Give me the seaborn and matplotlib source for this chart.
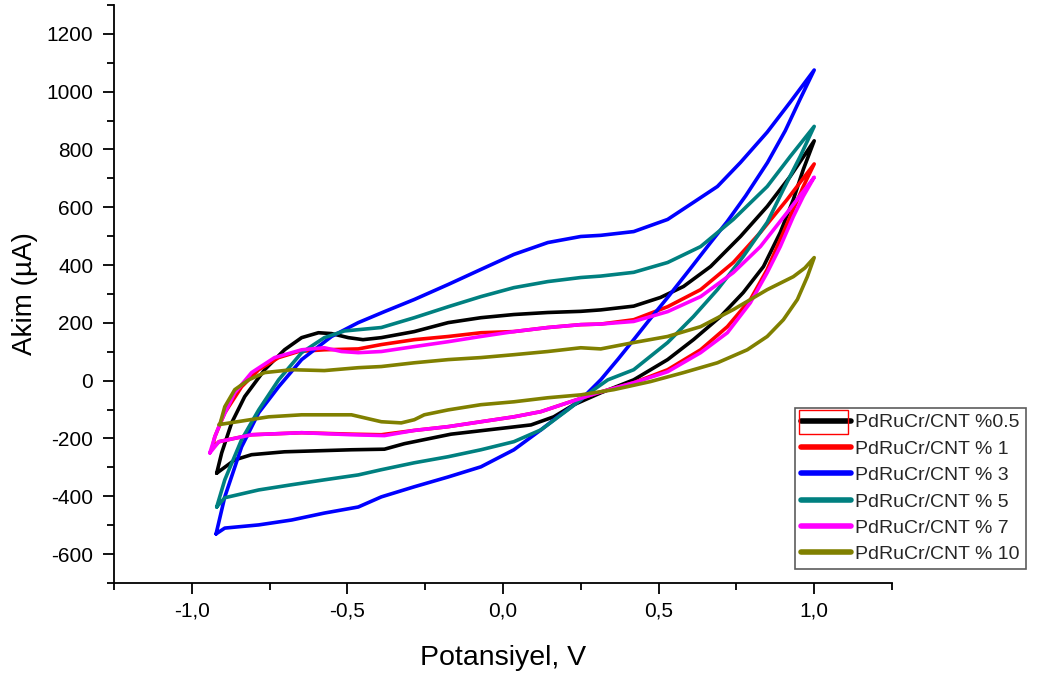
import numpy as np
import pandas as pd
import matplotlib
matplotlib.use("Agg")
import matplotlib.pyplot as plt
import seaborn as sns
from matplotlib.ticker import MultipleLocator, FuncFormatter
from matplotlib.patches import Rectangle

# ---- data ----
labels = ["PdRuCr/CNT %0.5", "PdRuCr/CNT % 1", "PdRuCr/CNT % 3",
          "PdRuCr/CNT % 5", "PdRuCr/CNT % 7", "PdRuCr/CNT % 10"]
colors = ["#000000", "#FF0000", "#0000FF", "#008080", "#FF00FF", "#808000"]

# %0.5 (black)
e_black = [-0.92, -0.904, -0.872, -0.83, -0.766, -0.702, -0.647, -0.593, -0.551, -0.497, -0.45, -0.391,
           -0.285, -0.176, -0.071, 0.035, 0.144, 0.25, 0.314, 0.42, 0.506, 0.58, 0.667, 0.763, 0.849, 0.923, 1.0,
           0.965, 0.933, 0.891, 0.837, 0.772, 0.699, 0.612, 0.529, 0.42, 0.314, 0.228, 0.163, 0.09, -0.006,
           -0.167, -0.317, -0.381, -0.487, -0.702, -0.808, -0.862, -0.92]
i_black = [-320, -250, -146, -55, 38, 107, 149, 166, 163, 149, 142, 149,
           170, 201, 218, 229, 236, 240, 245, 258, 288, 326, 395, 499, 603, 707, 830,
           731, 627, 513, 395, 305, 222, 142, 73, 3, -42, -83, -125, -153, -165,
           -185, -218, -237, -239, -246, -256, -274, -320]

# % 1 (red)
e_red = [-0.935, -0.926, -0.894, -0.84, -0.785, -0.721, -0.657, -0.574, -0.465, -0.391, -0.285, -0.176,
         -0.071, 0.035, 0.144, 0.25, 0.314, 0.42, 0.529, 0.635, 0.74, 0.827, 0.913, 1.0,
         0.965, 0.933, 0.891, 0.849, 0.795, 0.721, 0.635, 0.529, 0.42, 0.304, 0.208, 0.122, 0.035,
         -0.071, -0.176, -0.285, -0.391, -0.487, -0.647, -0.808, -0.913, -0.935]
i_red = [-235, -194, -111, -21, 38, 80, 101, 107, 110, 125, 142, 153,
         166, 170, 184, 194, 196, 211, 256, 315, 409, 513, 627, 750,
         672, 593, 489, 385, 281, 187, 107, 38, -7, -42, -76, -107, -125,
         -142, -159, -172, -187, -185, -180, -187, -211, -235]

# % 3 (blue)
e_blue = [-0.922, -0.894, -0.84, -0.785, -0.721, -0.647, -0.551, -0.465, -0.381, -0.285, -0.176, -0.071,
          0.035, 0.144, 0.25, 0.314, 0.42, 0.529, 0.612, 0.689, 0.763, 0.849, 0.923, 1.0,
          0.955, 0.907, 0.85, 0.78, 0.72, 0.667, 0.6, 0.529, 0.47, 0.42, 0.37, 0.314, 0.25, 0.176, 0.122, 0.035,
          -0.071, -0.176, -0.285, -0.391, -0.465, -0.574, -0.679, -0.785, -0.894, -0.922]
i_blue = [-530, -402, -229, -111, -21, 73, 153, 201, 239, 281, 333, 385,
          437, 478, 499, 503, 516, 558, 617, 672, 755, 860, 964, 1075,
          975, 865, 755, 640, 550, 478, 385, 288, 210, 142, 75, 3, -66, -125, -170, -239,
          -298, -333, -367, -402, -437, -458, -482, -499, -510, -530]

# % 5 (teal)
e_teal = [-0.92, -0.894, -0.84, -0.785, -0.721, -0.647, -0.574, -0.51, -0.391, -0.285, -0.176, -0.071,
          0.035, 0.144, 0.25, 0.314, 0.42, 0.529, 0.635, 0.74, 0.849, 0.923, 1.0,
          0.955, 0.901, 0.849, 0.772, 0.689, 0.612, 0.529, 0.42, 0.337, 0.292, 0.208, 0.122, 0.035,
          -0.071, -0.176, -0.285, -0.391, -0.465, -0.574, -0.679, -0.785, -0.894, -0.92]
i_teal = [-437, -343, -204, -101, 3, 97, 149, 172, 184, 218, 256, 291,
          322, 343, 357, 362, 375, 409, 464, 558, 672, 776, 880,
          776, 662, 548, 430, 315, 222, 132, 38, 3, -31, -101, -170, -211,
          -239, -263, -284, -308, -326, -343, -360, -378, -405, -437]

# % 7 (magenta)
e_mag = [-0.942, -0.926, -0.904, -0.862, -0.808, -0.734, -0.647, -0.574, -0.519, -0.465, -0.391, -0.285,
         -0.176, -0.071, 0.035, 0.144, 0.25, 0.314, 0.42, 0.529, 0.635, 0.74, 0.827, 0.913, 1.0,
         0.965, 0.933, 0.891, 0.849, 0.795, 0.721, 0.635, 0.529, 0.42, 0.304, 0.208, 0.122, 0.035,
         -0.071, -0.176, -0.285, -0.381, -0.487, -0.647, -0.808, -0.913, -0.942]
i_mag = [-250, -194, -135, -42, 28, 80, 107, 114, 101, 97, 101, 118,
         135, 153, 170, 184, 194, 196, 205, 239, 291, 374, 464, 582, 704,
         638, 568, 464, 374, 270, 166, 97, 31, -7, -42, -76, -107, -125,
         -142, -159, -172, -190, -187, -180, -187, -211, -250]

# % 10 (olive)
e_olive = [-0.91, -0.894, -0.862, -0.817, -0.766, -0.679, -0.574, -0.465, -0.391, -0.285, -0.176, -0.071,
           0.035, 0.144, 0.25, 0.314, 0.42, 0.529, 0.635, 0.74, 0.849, 0.933, 0.97, 1.0,
           0.978, 0.946, 0.901, 0.849, 0.785, 0.689, 0.58, 0.474, 0.356, 0.25, 0.144, 0.035, -0.071,
           -0.176, -0.253, -0.285, -0.327, -0.391, -0.487, -0.647, -0.753, -0.913]
i_olive = [-152, -90, -31, 3, 28, 38, 35, 45, 49, 62, 73, 80,
           90, 101, 114, 110, 132, 153, 187, 246, 315, 360, 390, 426,
           360, 281, 211, 153, 107, 62, 28, -3, -31, -49, -59, -73, -83,
           -101, -118, -135, -146, -142, -118, -118, -125, -152]

potentials = [e_black, e_red, e_blue, e_teal, e_mag, e_olive]
currents = [i_black, i_red, i_blue, i_teal, i_mag, i_olive]

rows = []
for lab, es, cs in zip(labels, potentials, currents):
    for k, (e, c) in enumerate(zip(es, cs)):
        rows.append({"series": lab, "step": k, "E": e, "I": c})
df = pd.DataFrame(rows)

# ---- plot ----
sns.set_theme(style="white")
plt.rcParams['font.family'] = ['Liberation Sans', 'DejaVu Sans']

fig = plt.figure(figsize=(10.43, 6.78), dpi=100)
ax = fig.add_axes([114/1043, 1 - 583/678, (892 - 114)/1043, (583 - 5)/678])

sns.lineplot(data=df, x="E", y="I", hue="series", hue_order=labels,
             palette=dict(zip(labels, colors)), sort=False, estimator=None,
             linewidth=2.6, ax=ax)

ax.set_xlim(-1.25, 1.25)
ax.set_ylim(-700, 1300)
ax.xaxis.set_major_locator(MultipleLocator(0.5))
ax.xaxis.set_minor_locator(MultipleLocator(0.25))
ax.yaxis.set_major_locator(MultipleLocator(200))
ax.yaxis.set_minor_locator(MultipleLocator(100))
ax.xaxis.set_major_formatter(FuncFormatter(lambda v, p: f"{v:.1f}".replace(".", ",")))
ax.yaxis.set_major_formatter(FuncFormatter(lambda v, p: f"{v:.0f}"))
ax.set_yticks([-600, -400, -200, 0, 200, 400, 600, 800, 1000, 1200])

for s in ["top", "right"]:
    ax.spines[s].set_visible(False)
for s in ["left", "bottom"]:
    ax.spines[s].set_color("black")
    ax.spines[s].set_linewidth(1.3)

ax.tick_params(axis="both", which="major", direction="out", length=8, width=1.3,
               color="black", labelsize=15, labelcolor="black", left=True, bottom=True)
ax.tick_params(axis="both", which="minor", direction="out", length=5, width=1.3,
               color="black", left=True, bottom=True)
ax.tick_params(axis="y", which="major", pad=7)
ax.tick_params(axis="x", which="major", pad=5)

ax.set_xlabel("Potansiyel, V", fontsize=20.5, color="black", labelpad=18)
ax.set_ylabel("Akim (µA)", fontsize=20, color="black", labelpad=6)

leg = ax.legend(loc="upper left", bbox_to_anchor=(795/1043, 1 - 408/678),
                bbox_transform=fig.transFigure, frameon=True, fancybox=False,
                edgecolor="#333333", fontsize=14, handlelength=2.6,
                handletextpad=0.2, borderpad=0.3, borderaxespad=0,
                labelspacing=0.45, title=None)
leg.get_frame().set_linewidth(1.2)
for h in leg.get_lines():
    h.set_linewidth(4)

# thin red selection box around the first legend handle, as in the reference
fig.patches.append(Rectangle((799/1043, 1 - 434/678), 49/1043, 24/678,
                             transform=fig.transFigure, fill=False,
                             edgecolor="#FF0000", linewidth=1.0, zorder=10))

fig.savefig("out.png", dpi=100)
